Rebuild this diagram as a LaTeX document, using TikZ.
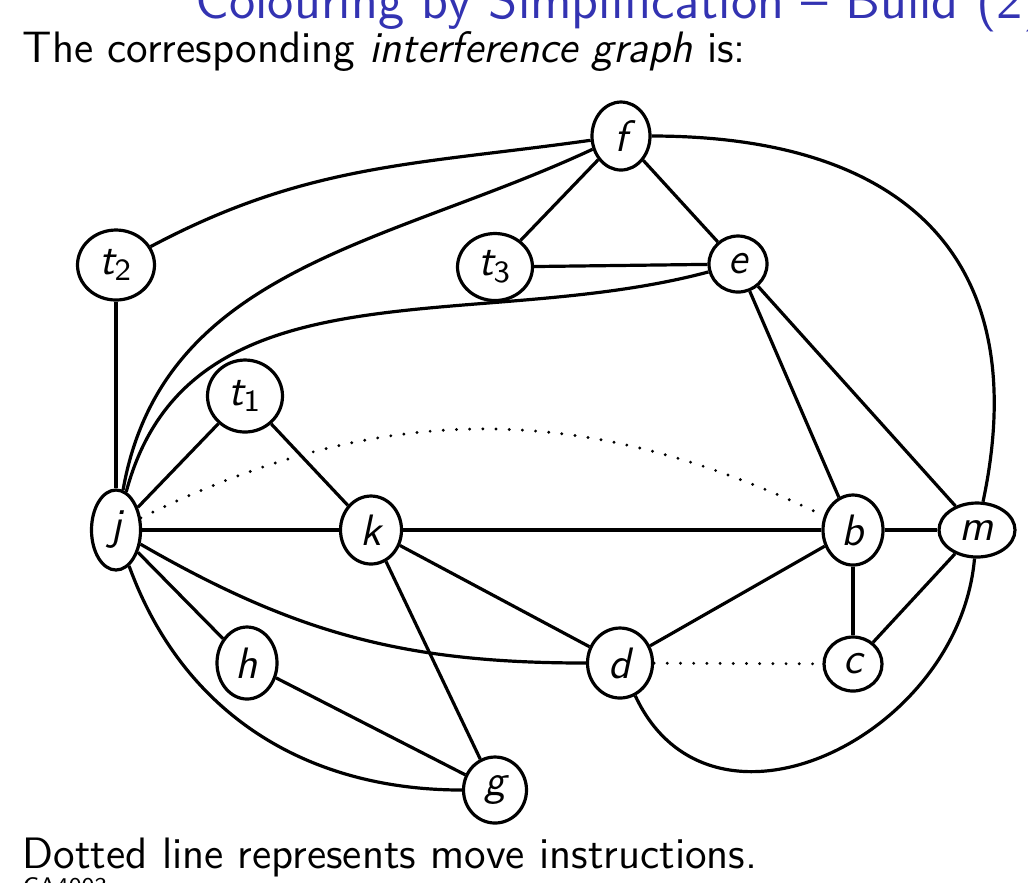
\documentclass[tikz,border=0pt]{standalone}
\usetikzlibrary{shapes.geometric}
\definecolor{beamerblue}{RGB}{51,51,178}
\tikzset{
  v/.style={ellipse,draw,line width=0.8pt,inner sep=0pt,
    font=\fontsize{11}{13}\selectfont\sffamily\itshape},
  ed/.style={line width=0.8pt},
  mv/.style={line width=0.8pt,dash pattern=on 0pt off 3.3pt,line cap=round},
  txt/.style={inner sep=0pt,anchor=base west,font=\fontsize{11}{13}\selectfont\sffamily}
}
\begin{document}
\begin{tikzpicture}[x=0.25pt,y=-0.25pt]
\clip (0,0) rectangle (1028,882);
% texts
\node[txt,font=\fontsize{13.4}{16}\selectfont\sffamily,text=beamerblue] (title) at (195,18) {Colouring by Simplification -- Build (2)};
\node[txt] (intro) at (22,62) {The corresponding \textit{interference graph} is:};
\node[txt] (note) at (22,868) {Dotted line represents move instructions.};
\node[txt,font=\fontsize{6}{7}\selectfont\sffamily] (foot) at (22,894) {CA4003};
% nodes
\node[v,minimum width=14.5pt,minimum height=17pt] (f) at (621,136) {f};
\node[v,minimum width=14.5pt,minimum height=14pt] (e) at (738,264) {e};
\node[v,minimum width=19.25pt,minimum height=17.5pt] (t2) at (116,265) {t\textsubscript{\upshape 2}};
\node[v,minimum width=18.75pt,minimum height=16.75pt] (t3) at (495,267) {t\textsubscript{\upshape 3}};
\node[v,minimum width=18.75pt,minimum height=18pt] (t1) at (245,396) {t\textsubscript{\upshape 1}};
\node[v,minimum width=12.25pt,minimum height=20pt] (j) at (116,530) {j};
\node[v,minimum width=15.25pt,minimum height=17pt] (k) at (371,530) {k};
\node[v,minimum width=15pt,minimum height=17.5pt] (b) at (853,530) {b};
\node[v,minimum width=19pt,minimum height=13.5pt] (m) at (977,530) {m};
\node[v,minimum width=14.5pt,minimum height=13.5pt] (c) at (853,664) {c};
\node[v,minimum width=15pt,minimum height=18pt] (h) at (247,663) {h};
\node[v,minimum width=16.25pt,minimum height=17.5pt] (d) at (620,663) {d};
\node[v,minimum width=15.75pt,minimum height=16.5pt] (g) at (495,790) {g};
% edges
\draw[ed] (t2) to[out=28,in=188] (f);
\draw[ed] (j) to[out=80,in=205] (f);
\draw[ed] (j) to[out=75,in=195] (e);
\draw[ed] (f) to[out=0,in=78,looseness=1.3] (m);
\draw[ed] (j) -- (t2);
\draw[ed] (j) -- (t1);
\draw[ed] (j) -- (k);
\draw[ed] (j) -- (h);
\draw[ed] (j) to[out=-30,in=180] (d);
\draw[ed] (j) to[out=-70,in=180] (g);
\draw[ed] (t1) -- (k);
\draw[ed] (f) -- (t3);
\draw[ed] (f) -- (e);
\draw[ed] (t3) -- (e);
\draw[ed] (e) -- (b);
\draw[ed] (e) -- (m);
\draw[ed] (k) -- (b);
\draw[ed] (k) -- (d);
\draw[ed] (k) -- (g);
\draw[ed] (h) -- (g);
\draw[ed] (d) -- (b);
\draw[ed] (b) -- (m);
\draw[ed] (b) -- (c);
\draw[ed] (c) -- (m);
\draw[ed] (d) to[out=-65,in=-95,looseness=1.25] (m);
\draw[mv] (j) to[bend left=26] (b);
\draw[mv] (d) -- (c);
\end{tikzpicture}
\end{document}
